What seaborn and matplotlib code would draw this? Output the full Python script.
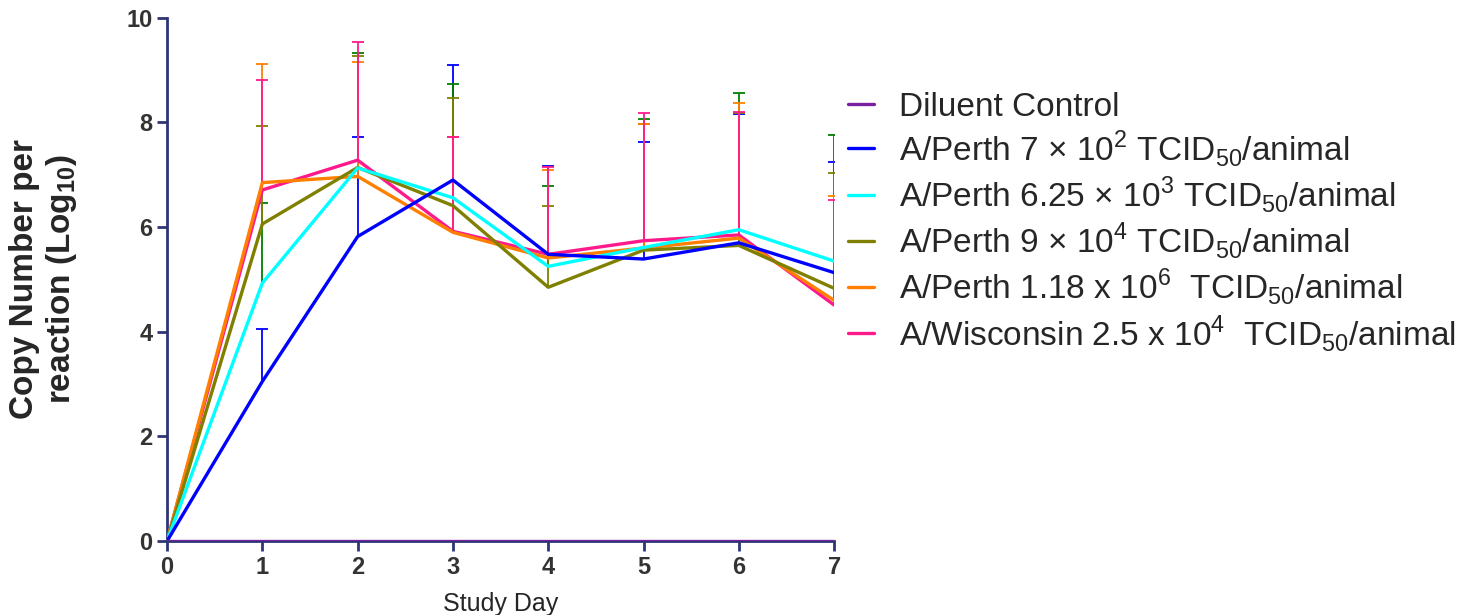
import numpy as np
import pandas as pd
import matplotlib
matplotlib.use("Agg")
import matplotlib.pyplot as plt
import seaborn as sns
from matplotlib.lines import Line2D

days = [0, 1, 2, 3, 4, 5, 6, 7]

labels = [
    "Diluent Control",
    "A/Perth 7 × 10$^{2}$ TCID$_{50}$/animal",
    "A/Perth 6.25 × 10$^{3}$ TCID$_{50}$/animal",
    "A/Perth 9 × 10$^{4}$ TCID$_{50}$/animal",
    "A/Perth 1.18 x 10$^{6}$  TCID$_{50}$/animal",
    "A/Wisconsin 2.5 x 10$^{4}$  TCID$_{50}$/animal",
]

diluent = [0, 0, 0, 0, 0, 0, 0, 0]
perth_7e2 = [0, 3.05, 5.82, 6.90, 5.48, 5.39, 5.70, 5.13]
perth_625e3 = [0, 4.93, 7.13, 6.56, 5.25, 5.61, 5.95, 5.35]
perth_9e4 = [0, 6.06, 7.14, 6.41, 4.85, 5.56, 5.65, 4.83]
perth_118e6 = [0, 6.85, 6.97, 5.90, 5.41, 5.60, 5.79, 4.60]
wisc_25e4 = [0, 6.71, 7.28, 5.92, 5.48, 5.74, 5.85, 4.51]

# upper error-bar tips (mean + SD)
up_7e2 = [0, 4.05, 7.72, 9.09, 7.17, 7.62, 8.16, 7.25]
up_625e3 = [0, 6.47, 9.32, 8.74, 6.79, 8.07, 8.56, 7.76]
up_9e4 = [0, 7.93, 9.28, 8.46, 6.41, 7.97, 8.19, 7.04]
up_118e6 = [0, 9.11, 9.16, 7.72, 7.09, 7.97, 8.37, 6.60]
up_wisc = [0, 8.81, 9.53, 7.72, 7.14, 8.19, 8.20, 6.51]

colors = ["#7A1FA0", "#0000FF", "#00FFFF", "#808000", "#FF8000", "#FF1A8C"]
err_colors = [None, "#0000FF", "#008000", "#808000", "#FF8000", "#FF1A8C"]

means = [diluent, perth_7e2, perth_625e3, perth_9e4, perth_118e6, wisc_25e4]
uppers = [None, up_7e2, up_625e3, up_9e4, up_118e6, up_wisc]

rows = []
for lab, m in zip(labels, means):
    for d, v in zip(days, m):
        rows.append({"Study Day": d, "value": v, "group": lab})
df = pd.DataFrame(rows)

sns.set_style("ticks")
plt.rcParams["font.family"] = ["Liberation Sans", "DejaVu Sans"]
plt.rcParams["mathtext.fontset"] = "custom"
plt.rcParams["mathtext.rm"] = "Liberation Sans"
plt.rcParams["mathtext.bf"] = "Liberation Sans:bold"

fig = plt.figure(figsize=(14.68, 6.15), dpi=100)
ax = fig.add_axes([0.1138, 0.1203, 0.4544, 0.8507])

# error bars (upper only)
for i in range(1, 6):
    m = np.array(means[i])
    u = np.array(uppers[i])
    yerr = np.vstack([np.zeros_like(m), u - m])
    eb = ax.errorbar(days[1:], m[1:], yerr=yerr[:, 1:], fmt="none",
                     ecolor=err_colors[i], elinewidth=1.3, capsize=4.5,
                     capthick=1.3, zorder=2)
    caps = eb[1]
    if len(caps) >= 2:
        caps[0].set_visible(False)

sns.lineplot(data=df, x="Study Day", y="value", hue="group",
             hue_order=labels[::-1], palette=dict(zip(labels, colors)),
             linewidth=2.4, ax=ax, legend=False, zorder=3)

# legend
handles = [Line2D([0], [0], color=c, lw=2.4) for c in colors]
fig.legend(handles, labels, loc="upper left", bbox_to_anchor=(0.557, 0.9),
           frameon=False, fontsize=24, handlelength=0.8, handletextpad=0.75,
           labelspacing=0.16)

ax.set_xlim(0, 7)
ax.set_ylim(0, 10)
ax.set_xticks(days)
ax.set_yticks([0, 2, 4, 6, 8, 10])
spine_c = "#2E3577"
for s in ["left", "bottom"]:
    ax.spines[s].set_color(spine_c)
    ax.spines[s].set_linewidth(2)
for s in ["top", "right"]:
    ax.spines[s].set_visible(False)
ax.tick_params(axis="both", colors=spine_c, width=2, length=7,
               labelsize=17, labelcolor="#333333")
for t in ax.get_xticklabels() + ax.get_yticklabels():
    t.set_fontweight("bold")

ax.set_xlabel("Study Day", fontsize=18, labelpad=10)
ax.set_ylabel("Copy Number per\nreaction (Log$_{\\mathbf{10}}$)", fontsize=24,
              fontweight="bold", labelpad=34, linespacing=1.15)

fig.savefig("out.png", dpi=100)
